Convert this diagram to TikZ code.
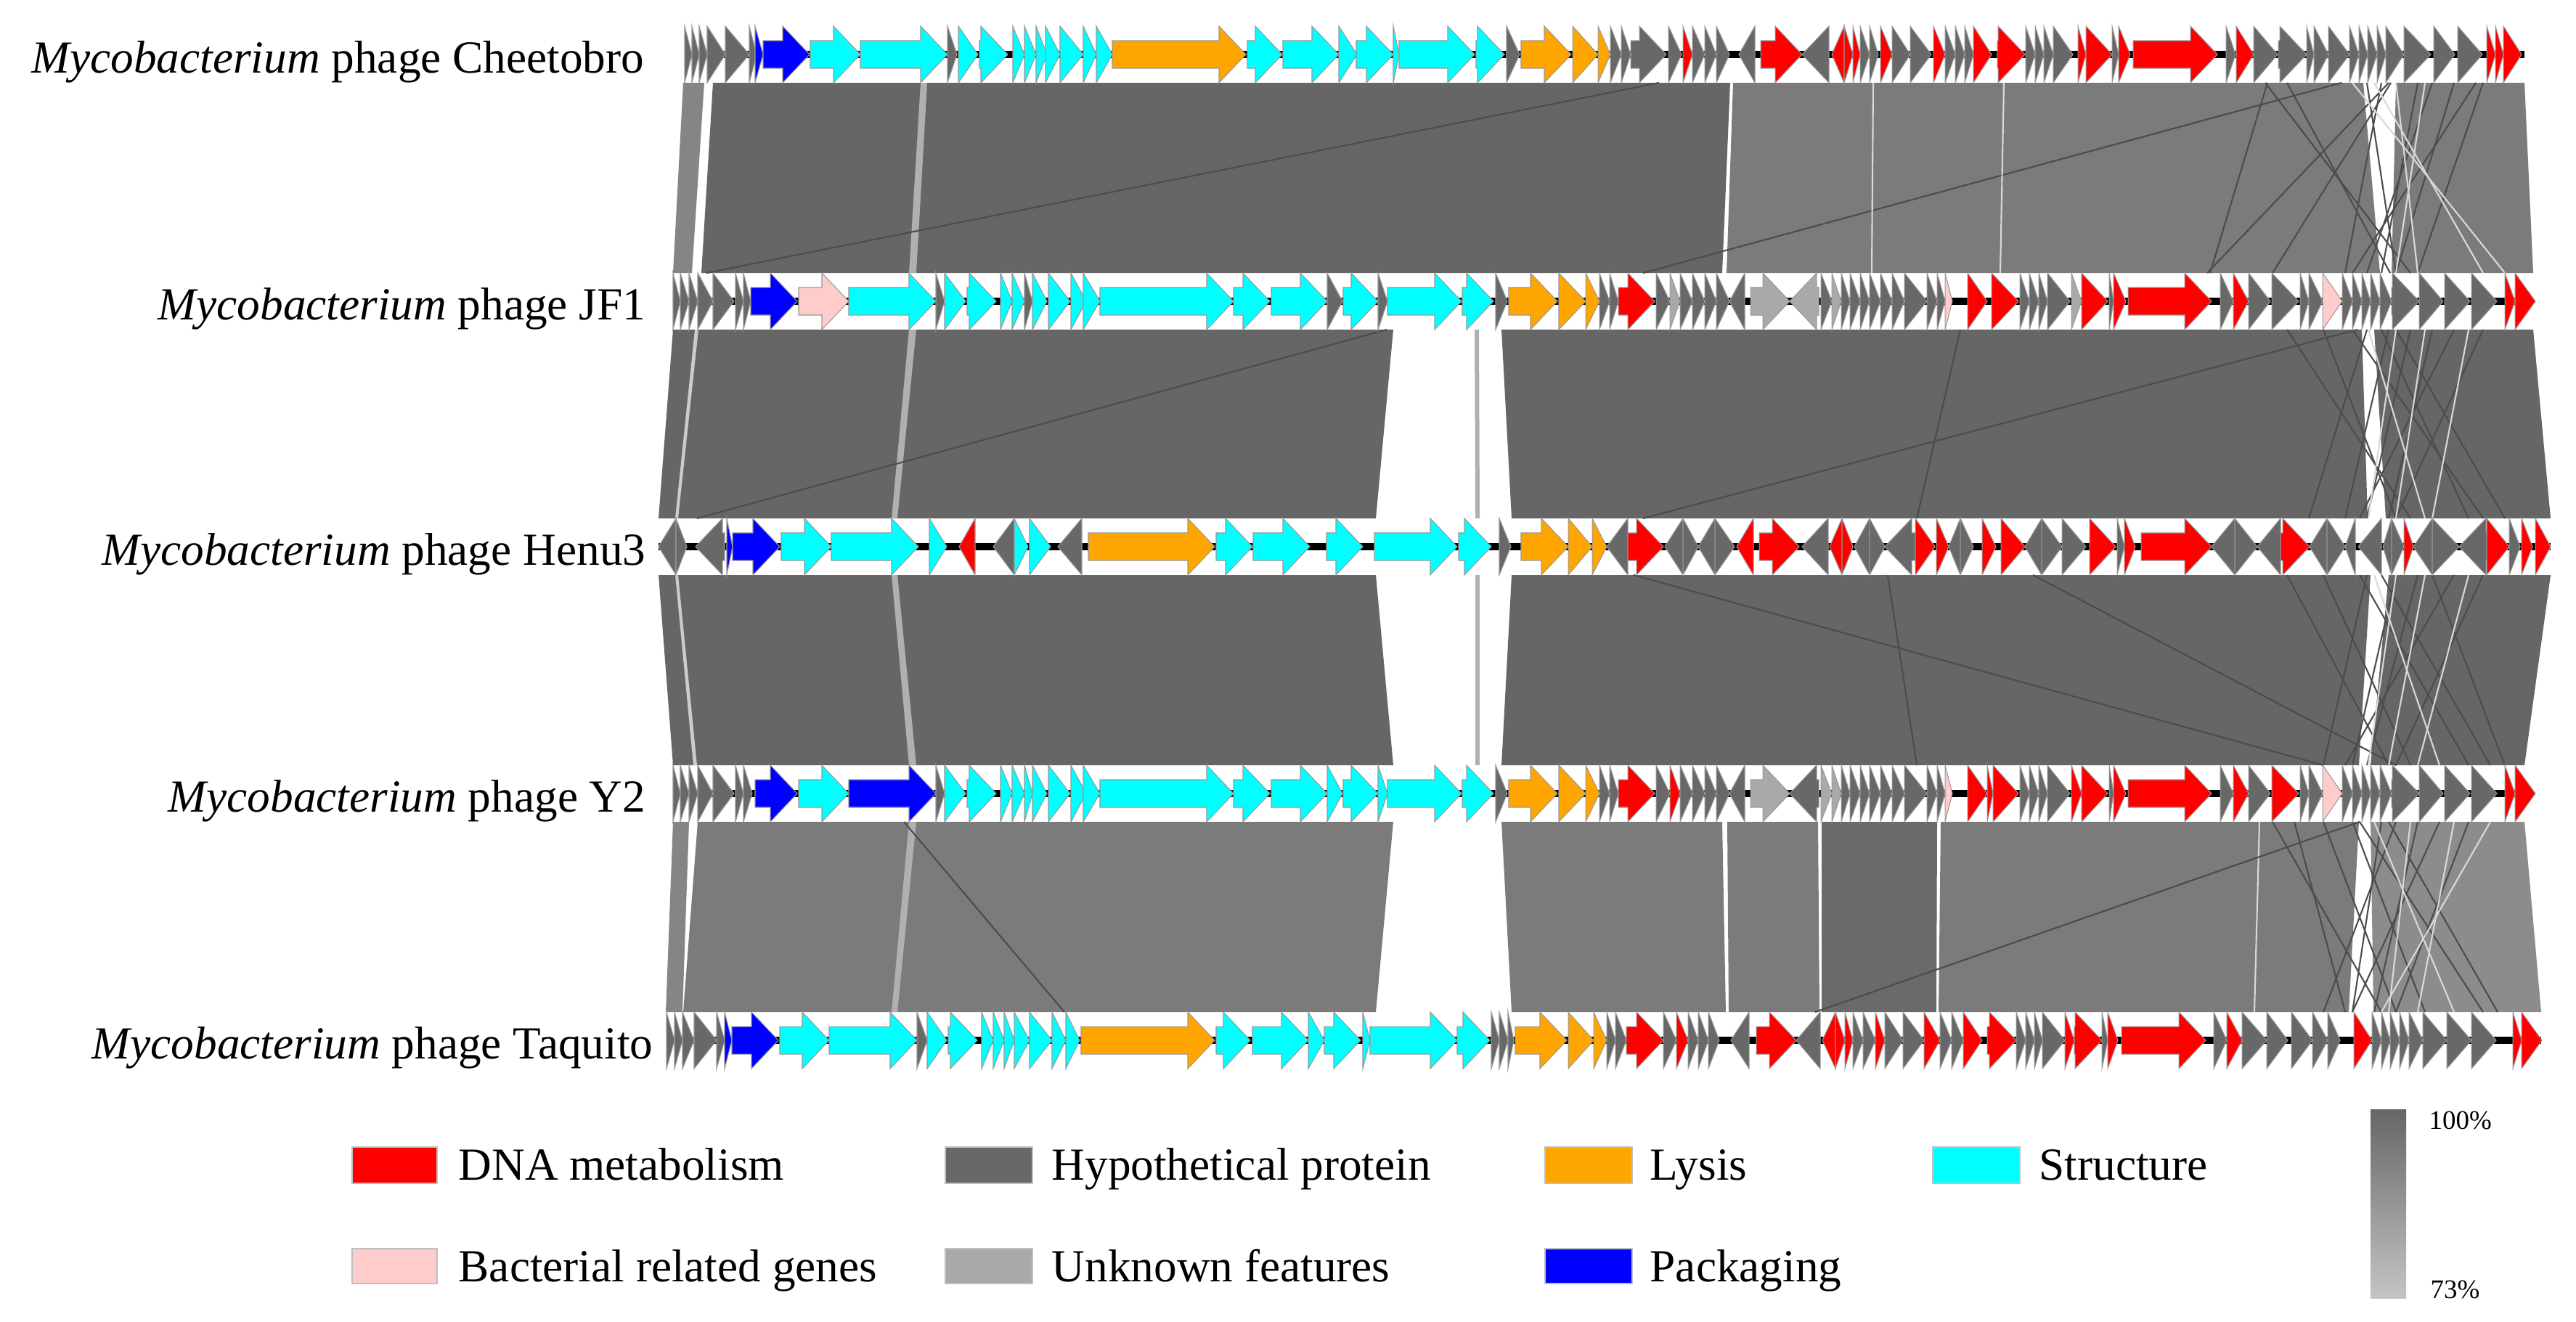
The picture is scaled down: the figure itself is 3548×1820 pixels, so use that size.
\documentclass[tikz,border=0pt]{standalone}
\usepackage{fontspec}
\setmainfont{Liberation Serif}
\definecolor{dn}{HTML}{FF0000}
\definecolor{hy}{HTML}{686868}
\definecolor{ly}{HTML}{FFA500}
\definecolor{st}{HTML}{00FFFF}
\definecolor{ba}{HTML}{FFCCCC}
\definecolor{un}{HTML}{A9A9A9}
\definecolor{pk}{HTML}{0000FF}
\definecolor{bandA}{HTML}{666666}
\definecolor{bandB}{HTML}{7B7B7B}
\definecolor{bandC}{HTML}{858585}
\definecolor{bandD}{HTML}{6A6A6A}
\definecolor{bandE}{HTML}{8C8C8C}
\definecolor{stripe}{HTML}{B0B0B0}
\newcommand\gene[5]{%
  \pgfmathsetmacro\hx{ifthenelse(#4>0, max(#2,#3-37), min(#3,#2+37))}%
  \pgfmathsetmacro\tip{ifthenelse(#4>0,#3,#2)}%
  \pgfmathsetmacro\tail{ifthenelse(#4>0,#2,#3)}%
  \filldraw[fill=#5, draw=black!40, line width=0.3pt, line join=miter]
    (\tail,#1-19) -- (\hx,#1-19) -- (\hx,#1-39) -- (\tip,#1) -- (\hx,#1+39) -- (\hx,#1+19) -- (\tail,#1+19) -- cycle;}
\tikzset{
  glabel/.style={anchor=base east, inner sep=0pt, font=\fontsize{18}{22}\selectfont},
  legtext/.style={anchor=base west, inner sep=0pt, font=\fontsize{18}{22}\selectfont},
  legbox/.style={draw=black!25, line width=0.5pt},
  chrom/.style={line width=2.8pt, black},
  xline/.style={line width=0.6pt, draw=black!70},
  wline/.style={line width=0.6pt, draw=white!85!black},
}
\begin{document}
\begin{tikzpicture}[x=0.01cm,y=-0.01cm]
\useasboundingbox (0,0) rectangle (3548,1820);
\fill[white] (0,0) rectangle (3548,1820);

% ---------------- bands ----------------
% band 1 : Cheetobro - JF1
\fill[bandC] (941,114) -- (970,114) -- (953,376) -- (927,376) -- cycle;
\fill[bandA] (982,114) -- (2383,114) -- (2372,376) -- (966,376) -- cycle;
\fill[stripe] (1268,114) -- (1277,114) -- (1262,376) -- (1252,376) -- cycle;
\fill[bandB] (2387,114) -- (3255,114) -- (3278,376) -- (2378,376) -- cycle;
\fill[bandB] (3300,114) -- (3477,114) -- (3489,376) -- (3294,376) -- cycle;
\foreach \t/\b in {2285/973, 3225/2263, 3123/3044, 3290/3040, 3293/3130, 3280/3230, 3260/3300, 3150/3292, 3120/3320, 3330/3280, 3350/3260, 3380/3300, 3410/3240, 3420/3330}
  \draw[xline] (\t,114) -- (\b,376);
\foreach \t/\b in {2580/2578, 2760/2755, 3270/3420, 3240/3450, 3300/3330, 3340/3300}
  \draw[wline] (\t,114) -- (\b,376);

% band 2 : JF1 - Henu3
\fill[bandA] (927,454) -- (1919,454) -- (1895,714) -- (907,714) -- cycle;
\fill[stripe] (1252,454) -- (1262,454) -- (1236,714) -- (1228,714) -- cycle;
\fill[white!80!black] (957,454) -- (962,454) -- (934,714) -- (930,714) -- cycle;
\fill[stripe] (2031,454) -- (2037,454) -- (2038,714) -- (2032,714) -- cycle;
\fill[bandA] (2068,454) -- (3253,454) -- (3261,714) -- (2082,714) -- cycle;
\fill[bandA] (3270,454) -- (3489,454) -- (3513,714) -- (3286,714) -- cycle;
\foreach \t/\b in {1910/960, 3247/2263, 3200/3300, 3150/3320, 3260/3180, 3290/3230, 3320/3260, 3350/3290, 3380/3250, 3280/3400, 3240/3420, 3300/3450, 3420/3300, 2700/2640}
  \draw[xline] (\t,454) -- (\b,714);
\foreach \t/\b in {3262/3340, 3300/3262, 3340/3300, 3400/3350}
  \draw[wline] (\t,454) -- (\b,714);

% band 3 : Henu3 - Y2
\fill[bandA] (907,792) -- (1895,792) -- (1919,1054) -- (927,1054) -- cycle;
\fill[stripe] (1228,792) -- (1236,792) -- (1262,1054) -- (1252,1054) -- cycle;
\fill[white!80!black] (930,792) -- (934,792) -- (960,1054) -- (955,1054) -- cycle;
\fill[stripe] (2032,792) -- (2038,792) -- (2038,1054) -- (2032,1054) -- cycle;
\fill[bandA] (2082,792) -- (3265,792) -- (3249,1054) -- (2068,1054) -- cycle;
\fill[bandA] (3290,792) -- (3513,792) -- (3477,1054) -- (3265,1054) -- cycle;
\foreach \t/\b in {2250/3200, 2800/3300, 3150/3290, 3200/3320, 3260/3200, 3300/3240, 3330/3260, 3380/3230, 3420/3300, 3250/3400, 3280/3430, 3350/3450, 2600/2640}
  \draw[xline] (\t,792) -- (\b,1054);
\foreach \t/\b in {3300/3262, 3340/3290, 3270/3360, 3400/3330}
  \draw[wline] (\t,792) -- (\b,1054);

% band 4 : Y2 - Taquito
\fill[bandC] (927,1132) -- (949,1132) -- (940,1394) -- (917,1394) -- cycle;
\fill[bandB] (961,1132) -- (1919,1132) -- (1895,1394) -- (941,1394) -- cycle;
\fill[stripe] (1252,1132) -- (1262,1132) -- (1236,1394) -- (1228,1394) -- cycle;
\fill[bandB] (2068,1132) -- (2372,1132) -- (2377,1394) -- (2082,1394) -- cycle;
\fill[bandB] (2379,1132) -- (2504,1132) -- (2506,1394) -- (2381,1394) -- cycle;
\fill[bandD] (2509,1132) -- (2668,1132) -- (2667,1394) -- (2509,1394) -- cycle;
\fill[bandB] (2673,1132) -- (3249,1132) -- (3235,1394) -- (2670,1394) -- cycle;
\fill[bandE] (3265,1132) -- (3477,1132) -- (3500,1394) -- (3269,1394) -- cycle;
\draw[wline] (3112,1132) -- (3105,1394);
\foreach \t/\b in {1245/1466, 3250/2500, 3160/3230, 3130/3280, 3200/3300, 3240/3340, 3280/3240, 3300/3200, 3330/3270, 3360/3240, 3400/3300, 3250/3420, 3290/3440}
  \draw[xline] (\t,1132) -- (\b,1394);
\foreach \t/\b in {3270/3380, 3320/3290, 3380/3330, 3430/3280}
  \draw[wline] (\t,1132) -- (\b,1394);

% ---------------- chromosome lines ----------------
\draw[chrom] (943,75) -- (3477,75);
\draw[chrom] (927,415) -- (3489,415);
\draw[chrom] (907,753) -- (3513,753);
\draw[chrom] (927,1093) -- (3489,1093);
\draw[chrom] (918,1433) -- (3500,1433);

% ---------------- genes: Cheetobro ----------------
\foreach \a/\b/\d/\c in {943/953/1/hy, 953/963/1/hy, 963/974/1/hy, 974/999/1/hy, 999/1032/1/hy, 1032/1042/1/hy, 1040/1051/1/pk, 1051/1115/1/pk, 1116/1185/1/st, 1185/1305/1/st, 1305/1318/1/hy, 1320/1347/1/st, 1349/1388/1/st, 1395/1411/1/st, 1411/1427/1/st, 1427/1442/1/st, 1440/1460/1/st, 1460/1492/1/st, 1492/1510/1/st, 1510/1532/1/st, 1532/1716/1/ly, 1718/1766/1/st, 1767/1844/1/st, 1844/1869/1/st, 1868/1919/1/st, 1919/1927/1/st, 1927/2031/1/st, 2033/2072/1/st, 2075/2093/1/hy, 2095/2164/1/ly, 2166/2201/1/ly, 2201/2218/1/ly, 2218/2233/1/hy, 2233/2246/1/hy, 2246/2295/1/hy, 2298/2316/1/hy, 2318/2331/1/dn, 2331/2348/1/hy, 2348/2364/1/hy, 2364/2382/1/hy, 2395/2417/-1/hy, 2425/2482/1/dn, 2482/2519/-1/hy, 2523/2540/-1/dn, 2540/2552/1/dn, 2552/2562/1/dn, 2562/2575/1/hy, 2575/2587/1/hy, 2590/2606/1/dn, 2606/2631/1/hy, 2631/2660/1/hy, 2663/2679/1/dn, 2679/2693/1/hy, 2693/2706/1/hy, 2706/2718/1/hy, 2718/2743/1/dn, 2751/2789/1/dn, 2790/2803/1/hy, 2803/2815/1/hy, 2815/2828/1/hy, 2828/2855/1/hy, 2862/2873/1/dn, 2873/2909/1/dn, 2909/2918/1/hy, 2918/2934/1/dn, 2938/3054/1/dn, 3066/3079/1/hy, 3080/3104/1/dn, 3104/3137/1/hy, 3138/3177/1/hy, 3177/3187/1/hy, 3187/3207/1/hy, 3207/3236/1/hy, 3236/3249/1/hy, 3249/3261/1/hy, 3261/3274/1/hy, 3274/3286/1/hy, 3286/3311/1/hy, 3311/3348/1/hy, 3352/3381/1/hy, 3385/3419/1/hy, 3425/3437/1/dn, 3437/3448/1/dn, 3448/3473/1/dn}
  {\gene{75}{\a}{\b}{\d}{\c}}

% ---------------- genes: JF1 ----------------
\foreach \a/\b/\d/\c in {927/937/1/hy, 937/949/1/hy, 949/961/1/hy, 961/982/1/hy, 982/1011/1/hy, 1013/1024/1/hy, 1024/1034/1/hy, 1034/1098/1/pk, 1100/1169/1/ba, 1169/1289/1/st, 1289/1301/1/hy, 1301/1330/1/st, 1332/1372/1/st, 1378/1394/1/st, 1394/1411/1/st, 1411/1422/1/hy, 1422/1442/1/st, 1444/1474/1/st, 1475/1496/1/st, 1492/1515/1/st, 1515/1699/1/st, 1699/1749/1/st, 1751/1828/1/st, 1828/1849/1/hy, 1850/1898/1/st, 1898/1911/1/hy, 1911/2013/1/st, 2014/2057/1/st, 2060/2076/1/hy, 2078/2145/1/ly, 2147/2184/1/ly, 2184/2203/1/ly, 2203/2217/1/hy, 2217/2229/1/hy, 2229/2279/1/dn, 2281/2300/1/hy, 2300/2314/1/un, 2314/2331/1/hy, 2331/2348/1/hy, 2348/2364/1/hy, 2364/2382/1/hy, 2382/2403/-1/hy, 2411/2465/1/un, 2465/2505/-1/un, 2508/2523/1/hy, 2523/2536/1/un, 2536/2548/1/hy, 2548/2562/1/hy, 2562/2575/1/hy, 2575/2590/1/hy, 2590/2606/1/hy, 2606/2623/1/hy, 2623/2654/1/hy, 2654/2668/1/hy, 2668/2679/1/hy, 2679/2689/1/ba, 2710/2737/1/dn, 2743/2780/1/dn, 2782/2795/1/hy, 2795/2808/1/hy, 2808/2820/1/hy, 2820/2851/1/hy, 2853/2867/1/un, 2867/2903/1/dn, 2905/2911/1/hy, 2911/2928/1/dn, 2931/3046/1/dn, 3058/3076/1/hy, 3076/3097/1/dn, 3097/3127/1/hy, 3129/3166/1/hy, 3168/3180/1/hy, 3180/3199/1/hy, 3199/3226/1/ba, 3226/3240/1/hy, 3240/3253/1/hy, 3253/3265/1/hy, 3265/3278/1/hy, 3278/3294/1/hy, 3294/3332/1/hy, 3332/3365/1/hy, 3367/3402/1/hy, 3404/3439/1/hy, 3450/3464/1/dn, 3464/3492/1/dn}
  {\gene{415}{\a}{\b}{\d}{\c}}

% ---------------- genes: Henu3 ----------------
\foreach \a/\b/\d/\c in {907/931/-1/hy, 931/946/1/hy, 958/998/-1/hy, 1001/1009/1/pk, 1009/1074/1/pk, 1076/1145/1/st, 1145/1265/1/st, 1280/1304/1/st, 1321/1343/-1/dn, 1368/1397/-1/hy, 1397/1416/1/st, 1418/1447/1/st, 1457/1490/-1/hy, 1499/1673/1/ly, 1675/1725/1/st, 1726/1804/1/st, 1827/1877/1/st, 1893/2007/1/st, 2009/2054/1/st, 2065/2081/1/hy, 2095/2160/1/ly, 2160/2193/1/ly, 2193/2213/1/ly, 2213/2242/-1/hy, 2242/2291/1/dn, 2293/2318/-1/hy, 2318/2339/1/hy, 2339/2362/-1/hy, 2362/2389/1/hy, 2392/2415/-1/dn, 2423/2478/1/dn, 2482/2518/-1/hy, 2520/2537/-1/dn, 2537/2552/1/dn, 2554/2575/-1/hy, 2575/2596/1/hy, 2596/2638/-1/hy, 2638/2665/1/dn, 2667/2684/1/dn, 2684/2700/-1/hy, 2700/2718/1/hy, 2730/2749/1/dn, 2756/2789/1/dn, 2789/2812/-1/hy, 2812/2840/1/hy, 2840/2873/1/hy, 2878/2914/1/dn, 2916/2926/1/hy, 2926/2941/1/dn, 2949/3046/1/dn, 3046/3078/-1/hy, 3078/3109/1/hy, 3109/3141/-1/hy, 3141/3181/1/dn, 3181/3205/-1/hy, 3205/3230/1/hy, 3230/3244/-1/hy, 3248/3280/-1/hy, 3282/3294/-1/hy, 3294/3311/1/hy, 3311/3324/1/dn, 3324/3350/-1/hy, 3350/3387/1/hy, 3387/3425/-1/hy, 3425/3456/1/dn, 3456/3471/1/hy, 3473/3488/1/dn, 3492/3513/1/dn}
  {\gene{753}{\a}{\b}{\d}{\c}}

% ---------------- genes: Y2 ----------------
\foreach \a/\b/\d/\c in {927/937/1/hy, 937/949/1/hy, 949/961/1/hy, 961/982/1/hy, 982/1011/1/hy, 1013/1024/1/hy, 1024/1036/1/hy, 1040/1098/1/pk, 1100/1169/1/st, 1169/1289/1/pk, 1289/1301/1/hy, 1301/1330/1/st, 1332/1372/1/st, 1378/1394/1/st, 1394/1411/1/st, 1411/1422/1/st, 1422/1442/1/st, 1444/1474/1/st, 1475/1496/1/st, 1492/1515/1/st, 1515/1699/1/st, 1699/1749/1/st, 1751/1828/1/st, 1828/1849/1/st, 1850/1898/1/st, 1898/1911/1/st, 1911/2013/1/st, 2014/2057/1/st, 2060/2076/1/hy, 2078/2145/1/ly, 2147/2184/1/ly, 2184/2203/1/ly, 2203/2217/1/hy, 2217/2229/1/hy, 2229/2279/1/dn, 2281/2300/1/hy, 2300/2314/1/dn, 2314/2331/1/hy, 2331/2348/1/hy, 2348/2364/1/hy, 2364/2382/1/hy, 2382/2403/-1/hy, 2411/2465/1/un, 2465/2505/-1/hy, 2508/2523/1/un, 2523/2536/1/un, 2536/2548/1/hy, 2548/2562/1/hy, 2562/2575/1/hy, 2575/2590/1/hy, 2590/2606/1/hy, 2606/2623/1/hy, 2623/2654/1/hy, 2654/2668/1/hy, 2668/2679/1/hy, 2679/2689/1/ba, 2710/2737/1/dn, 2737/2745/1/dn, 2745/2780/1/dn, 2782/2795/1/hy, 2795/2808/1/hy, 2808/2820/1/hy, 2820/2851/1/hy, 2853/2867/1/dn, 2867/2903/1/dn, 2905/2911/1/hy, 2911/2928/1/dn, 2931/3046/1/dn, 3058/3076/1/hy, 3076/3097/1/dn, 3097/3127/1/hy, 3129/3166/1/dn, 3168/3180/1/hy, 3180/3199/1/hy, 3199/3226/1/ba, 3226/3240/1/hy, 3240/3253/1/hy, 3253/3265/1/hy, 3265/3278/1/hy, 3278/3294/1/hy, 3294/3332/1/hy, 3332/3365/1/hy, 3367/3402/1/hy, 3404/3439/1/hy, 3450/3464/1/dn, 3464/3492/1/dn}
  {\gene{1093}{\a}{\b}{\d}{\c}}

% ---------------- genes: Taquito ----------------
\foreach \a/\b/\d/\c in {918/929/1/hy, 929/940/1/hy, 940/956/1/hy, 956/987/1/hy, 987/998/1/hy, 998/1008/1/pk, 1008/1072/1/pk, 1074/1142/1/st, 1142/1263/1/st, 1263/1277/1/hy, 1277/1304/1/st, 1306/1346/1/st, 1352/1368/1/st, 1368/1383/1/st, 1383/1397/1/st, 1397/1418/1/st, 1418/1449/1/st, 1449/1468/1/st, 1468/1487/1/st, 1489/1673/1/ly, 1675/1722/1/st, 1725/1802/1/st, 1802/1824/1/st, 1824/1874/1/st, 1877/1887/1/st, 1887/2007/1/st, 2007/2052/1/st, 2054/2065/1/hy, 2065/2077/1/hy, 2077/2085/1/hy, 2087/2158/1/ly, 2160/2195/1/ly, 2195/2213/1/ly, 2213/2225/1/hy, 2225/2240/1/hy, 2240/2291/1/dn, 2291/2309/1/hy, 2309/2325/1/dn, 2325/2339/1/hy, 2339/2353/1/hy, 2353/2368/1/hy, 2384/2409/-1/hy, 2419/2474/1/dn, 2474/2507/-1/hy, 2510/2528/-1/dn, 2528/2541/1/dn, 2541/2552/1/dn, 2552/2566/1/hy, 2566/2583/1/hy, 2583/2596/1/dn, 2596/2621/1/hy, 2621/2650/1/hy, 2650/2672/1/dn, 2672/2688/1/hy, 2688/2704/1/hy, 2704/2730/1/dn, 2737/2777/1/dn, 2777/2790/1/hy, 2790/2802/1/hy, 2802/2813/1/hy, 2813/2844/1/hy, 2844/2857/1/dn, 2857/2895/1/dn, 2895/2903/1/hy, 2903/2917/1/dn, 2922/3038/1/dn, 3049/3067/1/hy, 3067/3088/1/dn, 3088/3122/1/hy, 3122/3151/1/hy, 3156/3185/1/hy, 3185/3206/1/hy, 3206/3223/1/hy, 3242/3267/1/dn, 3267/3280/1/hy, 3280/3292/1/hy, 3292/3305/1/hy, 3305/3318/1/hy, 3318/3337/1/hy, 3337/3370/1/hy, 3370/3404/1/hy, 3404/3438/1/hy, 3461/3473/1/dn, 3473/3501/1/dn}
  {\gene{1433}{\a}{\b}{\d}{\c}}

% ---------------- genome labels ----------------
\node[glabel] (l1) at (888,100) {\textit{Mycobacterium} phage Cheetobro};
\node[glabel] (l2) at (890,440) {\textit{Mycobacterium} phage JF1};
\node[glabel] (l3) at (890,778) {\textit{Mycobacterium} phage Henu3};
\node[glabel] (l4) at (890,1118) {\textit{Mycobacterium} phage Y2};
\node[glabel] (l5) at (900,1458) {\textit{Mycobacterium} phage Taquito};

% ---------------- legend ----------------
\fill[legbox, fill=dn] (485,1580) rectangle (602,1630);
\node[legtext] (t1) at (631,1625) {DNA metabolism};
\fill[legbox, fill=hy] (1302,1580) rectangle (1422,1630);
\node[legtext] (t2) at (1448,1625) {Hypothetical protein};
\fill[legbox, fill=ly] (2128,1580) rectangle (2248,1630);
\node[legtext] (t3) at (2272,1625) {Lysis};
\fill[legbox, fill=st] (2662,1580) rectangle (2782,1630);
\node[legtext] (t4) at (2808,1625) {Structure};
\fill[legbox, fill=ba] (485,1720) rectangle (602,1768);
\node[legtext] (t5) at (631,1765) {Bacterial related genes};
\fill[legbox, fill=un] (1302,1720) rectangle (1422,1768);
\node[legtext] (t6) at (1448,1765) {Unknown features};
\fill[legbox, fill=pk] (2128,1720) rectangle (2248,1768);
\node[legtext] (t7) at (2272,1765) {Packaging};

% ---------------- identity scale ----------------
\shade[top color={rgb,255:red,102;green,102;blue,102}, bottom color={rgb,255:red,196;green,196;blue,196}] (3265,1528) rectangle (3314,1788);
\node[anchor=base west, inner sep=0pt, font=\fontsize{10.5}{12}\selectfont] (p100) at (3345,1555) {100\%};
\node[anchor=base west, inner sep=0pt, font=\fontsize{10.5}{12}\selectfont] (p73) at (3347,1788) {73\%};
\end{tikzpicture}
\end{document}
